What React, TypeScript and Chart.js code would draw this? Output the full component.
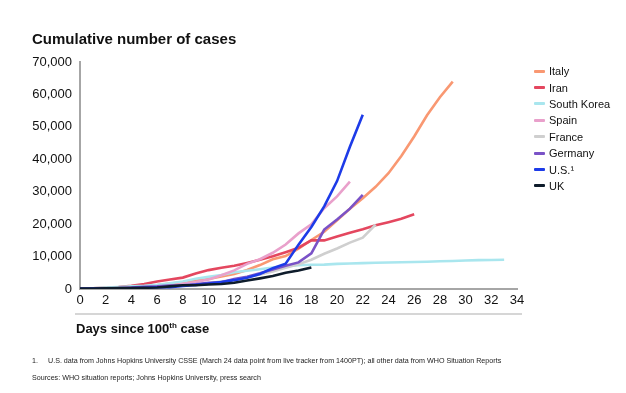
import React, { useEffect, useRef } from "react";
import { Chart, registerables } from "chart.js";

Chart.register(...registerables);

// Days since 100th case (index = day)
const seriesNames = ["Italy", "Iran", "South Korea", "Spain", "France", "Germany", "U.S.¹", "UK"];
const seriesColors = ["#F99872", "#E4475F", "#A9E6EE", "#E9A0CB", "#CFCFCF", "#7A52C7", "#1D3BE8", "#0E1C2B"];

const italy = [155, 229, 322, 453, 655, 888, 1128, 1694, 2036, 2502, 3089, 3858, 4636, 5883, 7375, 9172, 10149, 12462, 15113, 17660, 21157, 24747, 27980, 31506, 35713, 41035, 47021, 53578, 59138, 63927];
const iran = [141, 245, 388, 593, 978, 1501, 2336, 2922, 3513, 4747, 5823, 6566, 7161, 8042, 9000, 10075, 11364, 12729, 14991, 14991, 16169, 17361, 18407, 19644, 20610, 21638, 23049];
const southKorea = [104, 204, 433, 602, 833, 977, 1261, 1766, 2337, 3150, 3736, 4335, 5186, 5621, 6088, 6593, 7041, 7313, 7478, 7513, 7755, 7869, 7979, 8086, 8162, 8236, 8320, 8413, 8565, 8652, 8799, 8897, 8961, 9037];
const spain = [114, 151, 198, 261, 282, 374, 589, 1024, 1639, 2140, 2950, 4231, 5753, 7753, 9191, 11178, 13716, 17147, 19980, 24926, 28572, 33089];
const france = [100, 130, 191, 212, 282, 420, 613, 706, 1116, 1402, 1774, 2269, 2860, 3640, 4469, 5380, 6573, 7652, 9043, 10871, 12475, 14296, 15821, 19856];
const germany = [130, 157, 196, 262, 482, 670, 799, 1040, 1176, 1457, 1908, 2078, 3062, 3795, 4838, 6012, 7156, 8198, 10999, 18323, 21463, 24774, 29056];
const us = [100, 118, 149, 217, 262, 402, 518, 583, 959, 1281, 1663, 2179, 2726, 3499, 4632, 6421, 7786, 13680, 19101, 25493, 33276, 43847, 53740];
const uk = [116, 164, 209, 278, 321, 383, 459, 798, 1140, 1140, 1391, 1543, 1950, 2626, 3269, 3983, 5018, 5683, 6650];

const xMin = 0;
const xMax = 34;
const xStep = 2;
const yMin = 0;
const yMax = 70000;
const yStep = 10000;

const FONT = '"Liberation Sans", Arial, Helvetica, sans-serif';

export default function App() {
  const canvasRef = useRef<HTMLCanvasElement>(null);

  useEffect(() => {
    const values = [italy, iran, southKorea, spain, france, germany, us, uk];
    const chart = new Chart(canvasRef.current!, {
      type: "line",
      data: {
        datasets: values.map((arr, i) => ({
          label: seriesNames[i],
          data: arr.map((v, d) => ({ x: d, y: v })),
          borderColor: seriesColors[i],
          backgroundColor: seriesColors[i],
          borderWidth: 2.6,
          pointRadius: 0,
          tension: 0,
          fill: false,
          order: values.length - i,
        })),
      },
      options: {
        responsive: false,
        animation: false,
        events: [],
        layout: { padding: { left: 0, top: 62, right: 109, bottom: 0 } },
        plugins: { legend: { display: false }, tooltip: { enabled: false } },
        scales: {
          x: {
            type: "linear",
            min: xMin,
            max: xMax,
            ticks: {
              stepSize: xStep,
              autoSkip: false,
              maxRotation: 0,
              color: "#111",
              padding: 4,
              font: { family: FONT, size: 13 },
            },
            grid: { display: false, drawTicks: false },
            border: { display: true, color: "#A6A6A6", width: 2 },
            afterFit: (s: any) => {
              s.height = 393 - 289;
            },
          },
          y: {
            min: yMin,
            max: yMax,
            ticks: {
              stepSize: yStep,
              color: "#111",
              padding: 8,
              font: { family: FONT, size: 13 },
              callback: (v: any) => Number(v).toLocaleString("en-US"),
            },
            grid: { display: false, drawTicks: false },
            border: { display: true, color: "#A6A6A6", width: 2 },
            afterFit: (s: any) => {
              s.width = 80;
            },
          },
        },
      },
    });
    return () => chart.destroy();
  }, []);

  return (
    <div
      style={{
        position: "absolute",
        left: 0,
        top: 0,
        width: 626,
        height: 393,
        background: "#fff",
        fontFamily: FONT,
        color: "#111",
        overflow: "hidden",
      }}
    >
      <canvas
        ref={canvasRef}
        width={626}
        height={393}
        style={{ position: "absolute", left: 0, top: 0, width: 626, height: 393 }}
      />
      <div
        style={{
          position: "absolute",
          left: 32,
          top: 30,
          fontSize: 15,
          fontWeight: "bold",
          lineHeight: "18px",
          whiteSpace: "nowrap",
        }}
      >
        Cumulative number of cases
      </div>
      {/* legend */}
      <div style={{ position: "absolute", left: 534, top: 63 }}>
        {seriesNames.map((n, i) => (
          <div
            key={n}
            style={{ display: "flex", alignItems: "center", height: 16.4, fontSize: 11, whiteSpace: "nowrap" }}
          >
            <span
              style={{
                display: "inline-block",
                width: 11,
                height: 3,
                background: seriesColors[i],
                marginRight: 4,
                borderRadius: 1,
              }}
            />
            <span>{n}</span>
          </div>
        ))}
      </div>
      <div style={{ position: "absolute", left: 75, top: 313, width: 447, height: 2, background: "#D6D6D6" }} />
      <div
        style={{
          position: "absolute",
          left: 76,
          top: 321,
          fontSize: 13,
          fontWeight: "bold",
          lineHeight: "16px",
          whiteSpace: "nowrap",
        }}
      >
        Days since 100<sup style={{ fontSize: 8, verticalAlign: "5px", lineHeight: 0 }}>th</sup> case
      </div>
      <div style={{ position: "absolute", left: 32, top: 357, fontSize: 7.15, lineHeight: "9px", whiteSpace: "nowrap", color: "#222" }}>
        <span style={{ display: "inline-block", width: 16 }}>1.</span>
        U.S. data from Johns Hopkins University CSSE (March 24 data point from live tracker from 1400PT); all other data from WHO Situation Reports
      </div>
      <div style={{ position: "absolute", left: 32, top: 374, fontSize: 7.15, lineHeight: "9px", whiteSpace: "nowrap", color: "#222" }}>
        Sources: WHO situation reports; Johns Hopkins University, press search
      </div>
    </div>
  );
}
